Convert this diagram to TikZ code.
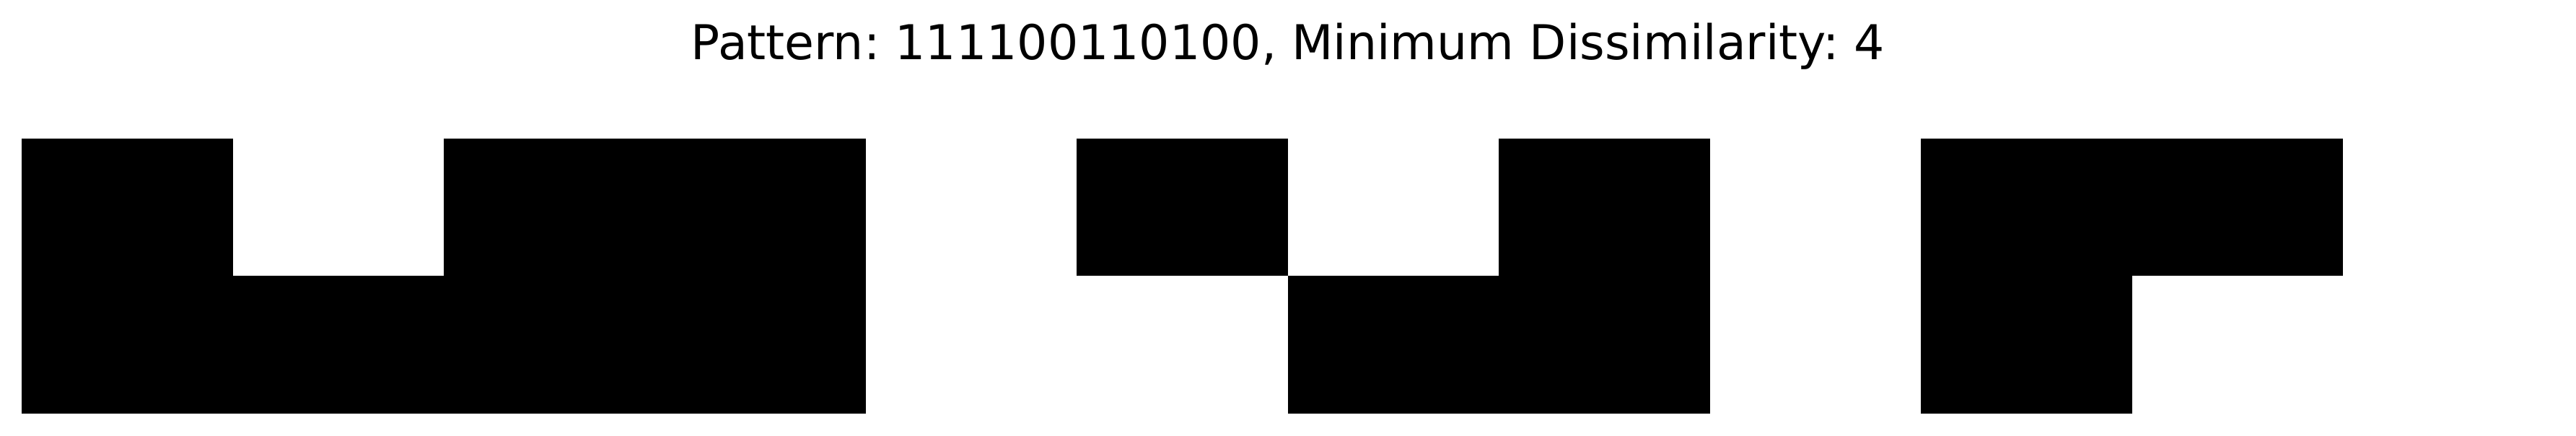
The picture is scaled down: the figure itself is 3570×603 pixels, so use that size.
\documentclass[tikz,border=0pt]{standalone}
\usepackage{fontspec}
\setmainfont{DejaVu Sans}
\frenchspacing
\begin{document}
\begin{tikzpicture}[x=1pt,y=-1pt,cell/.style={fill=black,draw=none}]
\useasboundingbox[fill=white] (0,0) rectangle (3570,603);
% group 1
\fill[cell] (30,192) rectangle (322.5,573);
\fill[cell] (322.5,382) rectangle (615,573);
\fill[cell] (615,192) rectangle (1200,573);
% group 2
\fill[cell] (1492,192) rectangle (1785,382);
\fill[cell] (1785,382) rectangle (2370,573);
\fill[cell] (2077,192) rectangle (2370,382);
% group 3
\fill[cell] (2662,192) rectangle (3247,382);
\fill[cell] (2662,382) rectangle (2954.5,573);
\node[anchor=base,inner sep=0pt,font=\fontsize{66.5}{78}\selectfont] (title) at (1785,82) {Pattern: 111100110100, Minimum Dissimilarity: 4};
\end{tikzpicture}
\end{document}
